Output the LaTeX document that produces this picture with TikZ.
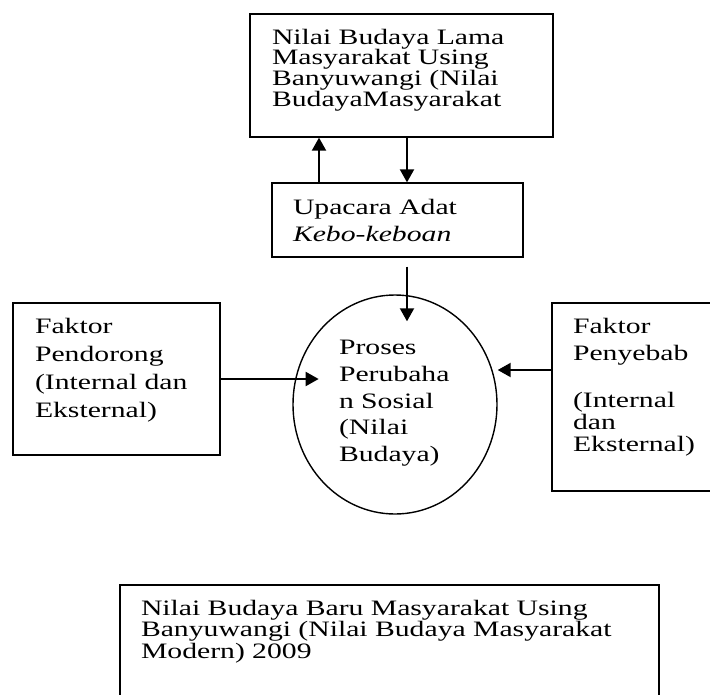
\documentclass[tikz,border=0pt]{standalone}
\usepackage{fontspec}
\setmainfont{Liberation Serif}[FakeStretch=1.35]
\usetikzlibrary{shapes.geometric, arrows.meta, calc}
\tikzstyle{box} = [rectangle,draw,line width=1.3pt,inner sep=0pt,align=left]
\tikzstyle{oval} = [ellipse,draw,line width=1.4pt,inner sep=0pt,align=left]
\tikzstyle{arr} = [line width=2pt,-{Triangle[length=13pt,width=14pt]}]
\newcommand{\lowpad}[1]{\rule[-#1]{0pt}{#1}}
\newcommand{\fs}[1]{\fontsize{22pt}{#1}\selectfont}

\begin{document}
\begin{tikzpicture}[x=1pt,y=-1pt]
	\useasboundingbox (0,0) rectangle (710,694);
	\fill[white] (0,0) rectangle (710,694);
	\clip (0,0) rectangle (710,694);
	% old values -> ceremony -> process
	\node [box,minimum width=303pt,minimum height=123pt,text width=259pt,font=\fs{20.7pt}](lama) at (401.5,75.5){Nilai Budaya Lama\\Masyarakat Using\\Banyuwangi (Nilai\\BudayaMasyarakat\lowpad{16pt}};
	\node [box,minimum width=251pt,minimum height=74pt,text width=209pt,font=\fs{27pt}](upacara) at (397.5,220){Upacara Adat\\\textit{Kebo-keboan}};
	\node [oval,minimum width=204pt,minimum height=219pt,text width=112pt,font=\fs{26.75pt}](proses) at (395,404.5){Proses\\Perubaha\\n Sosial\\(Nilai\\Budaya)\lowpad{7pt}};
	% factors
	\node [box,minimum width=207pt,minimum height=152pt,text width=163pt,font=\fs{28pt}](pendorong) at (116.5,379){Faktor\\Pendorong\\(Internal dan\\Eksternal)\lowpad{23pt}};
	\node [box,minimum width=208pt,minimum height=188pt,text width=166pt,font=\fs{22pt}](penyebab) at (656,397){Faktor\\[5pt]Penyebab\\[25pt](Internal\\dan\\Eksternal)\lowpad{25pt}};
	% new values
	\node [box,minimum width=539pt,minimum height=135pt,text width=497pt,font=\fs{21.5pt}](baru) at (389.5,652.5){Nilai Budaya Baru Masyarakat Using\\Banyuwangi (Nilai Budaya Masyarakat\\Modern) 2009\lowpad{47pt}};

	\draw[arr](upacara.north -| 319,0)--(lama.south -| 319,0);
	\draw[arr](lama.south -| 407,0)--(upacara.north -| 407,0);
	\draw[arr]($(upacara.south -| 407,0)+(0,9)$)--($(proses.north -| 407,0)+(0,27)$);
	\draw[arr](pendorong.east)--($(pendorong.east)+(98,0)$);
	\draw[arr]($(penyebab.west)+(0,-27)$)--($(proses.east)+(0,-34.5)$);
\end{tikzpicture}
\end{document}
